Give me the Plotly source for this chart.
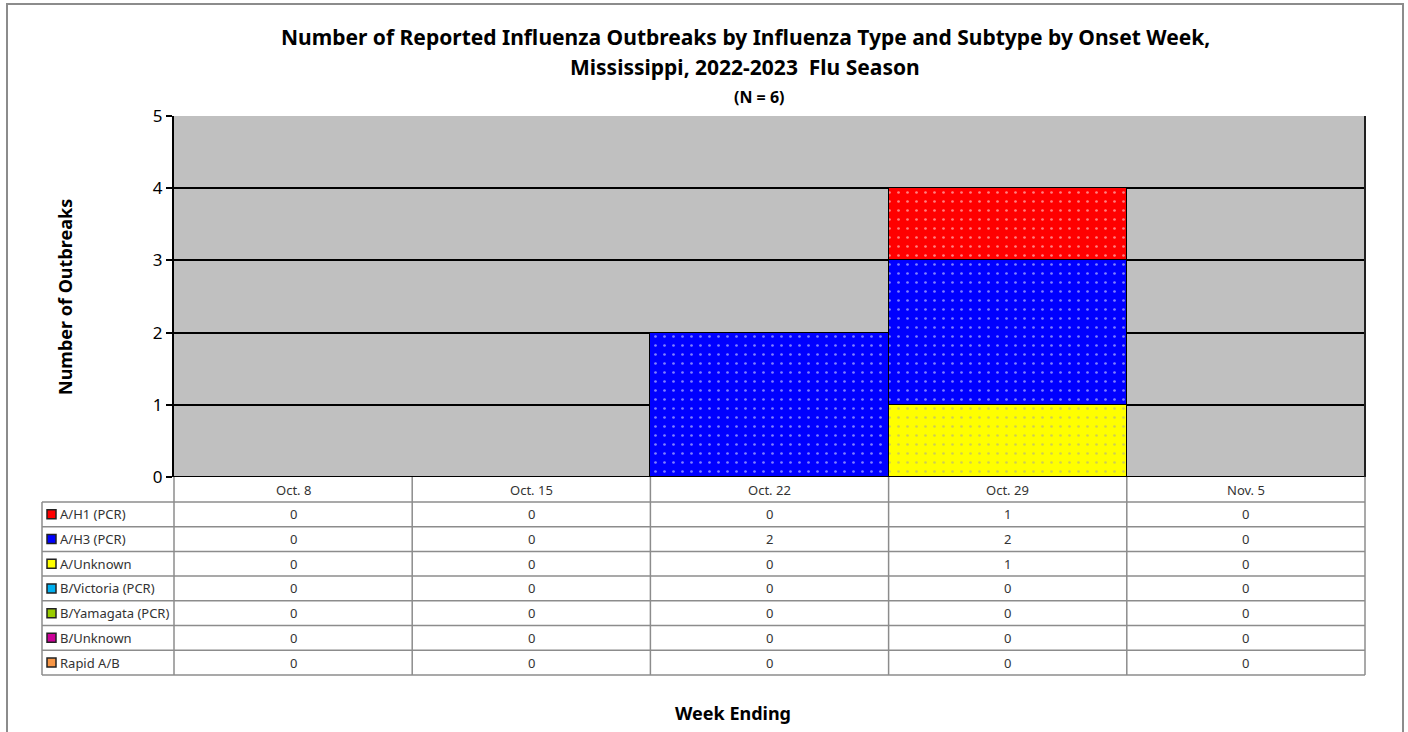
import plotly.graph_objects as go

weeks = ["Oct. 8", "Oct. 15", "Oct. 22", "Oct. 29", "Nov. 5"]
series_names = ["A/H1 (PCR)", "A/H3 (PCR)", "A/Unknown", "B/Victoria (PCR)",
                "B/Yamagata (PCR)", "B/Unknown", "Rapid A/B"]
a_h1 = [0, 0, 0, 1, 0]
a_h3 = [0, 0, 2, 2, 0]
a_unknown = [0, 0, 0, 1, 0]
b_victoria = [0, 0, 0, 0, 0]
b_yamagata = [0, 0, 0, 0, 0]
b_unknown = [0, 0, 0, 0, 0]
rapid_ab = [0, 0, 0, 0, 0]
series_values = [a_h1, a_h3, a_unknown, b_victoria, b_yamagata, b_unknown, rapid_ab]
colors = ["#FF0000", "#0000FF", "#FFFF00", "#00B0F0", "#99CC00", "#CC0099", "#F79646"]
dot_colors = ["#FFFFFF", "#FFFFFF", "#A0A0A0", "#FFFFFF", "#FFFFFF", "#FFFFFF", "#FFFFFF"]

W, H = 1408, 732
L, R, T, B = 174, 1365, 116, 477  # plot area in pixels
FONT = "Noto Sans"


def px(x):
    return (x - L) / (R - L)


def py(y):
    return (B - y) / (B - T)


fig = go.Figure()
# stack order: A/Unknown at bottom, then A/H3, then A/H1 on top
order = [2, 1, 0, 3, 4, 5, 6]
for i in order:
    fig.add_trace(go.Bar(
        x=list(range(len(weeks))), y=series_values[i], name=series_names[i],
        marker=dict(color=colors[i], line=dict(color="#000000", width=1.5),
                    pattern=dict(shape=".", fgcolor=dot_colors[i], size=9, solidity=0.07)),
        showlegend=False,
    ))

shapes = []
annotations = []

# outer border
shapes.append(dict(type="rect", xref="paper", yref="paper", x0=px(7), x1=px(1403),
                   y0=py(760), y1=py(4), line=dict(color="#8C8C8C", width=2)))
# plot right edge
shapes.append(dict(type="line", xref="paper", yref="paper", x0=1, x1=1, y0=0, y1=1,
                   line=dict(color="#202020", width=2)))

row_h = 24.7
header_top = B
header_bot = B + 25
rows_top = header_bot
n_rows = len(series_names)
table_bot = rows_top + row_h * n_rows
grid_col = "#8C8C8C"
txt_col = "#333333"

# horizontal table lines
for r in range(n_rows + 1):
    yy = rows_top + r * row_h
    shapes.append(dict(type="line", xref="paper", yref="paper", x0=px(42), x1=1,
                       y0=py(yy), y1=py(yy), line=dict(color=grid_col, width=1.5)))
# vertical table lines
for k in range(len(weeks) + 1):
    xx = L + k * (R - L) / len(weeks)
    shapes.append(dict(type="line", xref="paper", yref="paper", x0=px(xx), x1=px(xx),
                       y0=py(header_top), y1=py(table_bot), line=dict(color=grid_col, width=1.5)))
shapes.append(dict(type="line", xref="paper", yref="paper", x0=px(42), x1=px(42),
                   y0=py(rows_top), y1=py(table_bot), line=dict(color=grid_col, width=1.5)))

# header labels
for j, w in enumerate(weeks):
    annotations.append(dict(x=j, y=py((header_top + header_bot) / 2), xref="x", yref="paper",
                            xanchor="center", yanchor="middle",
                            text=w, showarrow=False, font=dict(family=FONT, size=13, color=txt_col)))
# rows
for r, name in enumerate(series_names):
    yc = rows_top + (r + 0.5) * row_h
    shapes.append(dict(type="rect", xref="paper", yref="paper", x0=px(47), x1=px(56),
                       y0=py(yc + 4.5), y1=py(yc - 4.5), fillcolor=colors[r],
                       line=dict(color="#222222", width=1.5)))
    annotations.append(dict(x=px(58), y=py(yc), xref="paper", yref="paper", text=name,
                            xanchor="left", yanchor="middle", showarrow=False,
                            font=dict(family=FONT, size=13, color=txt_col)))
    for j, v in enumerate(series_values[r]):
        annotations.append(dict(x=j, y=py(yc), xref="x", yref="paper", text=str(v),
                                xanchor="center", yanchor="middle",
                                showarrow=False, font=dict(family=FONT, size=13, color=txt_col)))

# titles
tx = px(745)
annotations.append(dict(x=tx, y=py(37), xref="paper", yref="paper", showarrow=False,
                        xanchor="center", yanchor="middle",
                        text="<b>Number of Reported Influenza Outbreaks by Influenza Type and Subtype by Onset Week,</b>",
                        font=dict(family=FONT, size=21, color="#000000")))
annotations.append(dict(x=tx, y=py(67), xref="paper", yref="paper", showarrow=False,
                        xanchor="center", yanchor="middle",
                        text="<b>Mississippi, 2022-2023  Flu Season</b>",
                        font=dict(family=FONT, size=21, color="#000000")))
annotations.append(dict(x=px(759), y=py(97), xref="paper", yref="paper", showarrow=False,
                        xanchor="center", yanchor="middle",
                        text="<b>(N = 6)</b>",
                        font=dict(family=FONT, size=16, color="#000000")))
annotations.append(dict(x=px(65), y=py(297), xref="paper", yref="paper", showarrow=False,
                        xanchor="center", yanchor="middle",
                        text="<b>Number of Outbreaks</b>", textangle=-90,
                        font=dict(family=FONT, size=18, color="#000000")))
annotations.append(dict(x=px(733), y=py(713), xref="paper", yref="paper", showarrow=False,
                        xanchor="center", yanchor="middle",
                        text="<b>Week Ending</b>",
                        font=dict(family=FONT, size=18, color="#000000")))

fig.update_layout(
    width=W, height=H,
    margin=dict(l=L, r=W - R, t=T, b=H - B, pad=0),
    paper_bgcolor="#FFFFFF", plot_bgcolor="#C0C0C0",
    barmode="stack", bargap=0,
    shapes=shapes, annotations=annotations,
    xaxis=dict(range=[-0.5, len(weeks) - 0.5], showticklabels=False, showgrid=False,
               zeroline=False, showline=False, ticks="", fixedrange=True),
    yaxis=dict(range=[0, 5], dtick=1, showgrid=True, gridcolor="#000000", gridwidth=1.5,
               zeroline=False, showline=True, linecolor="#000000", linewidth=2,
               ticks="outside", ticklen=6, tickcolor="#000000", tickwidth=1.5,
               tickfont=dict(family=FONT, size=17, color="#000000"), fixedrange=True),
    font=dict(family=FONT),
)

fig.write_html("out.html", config={"displayModeBar": False},
               post_script="document.body.style.margin='0px';document.body.style.overflow='hidden';")
